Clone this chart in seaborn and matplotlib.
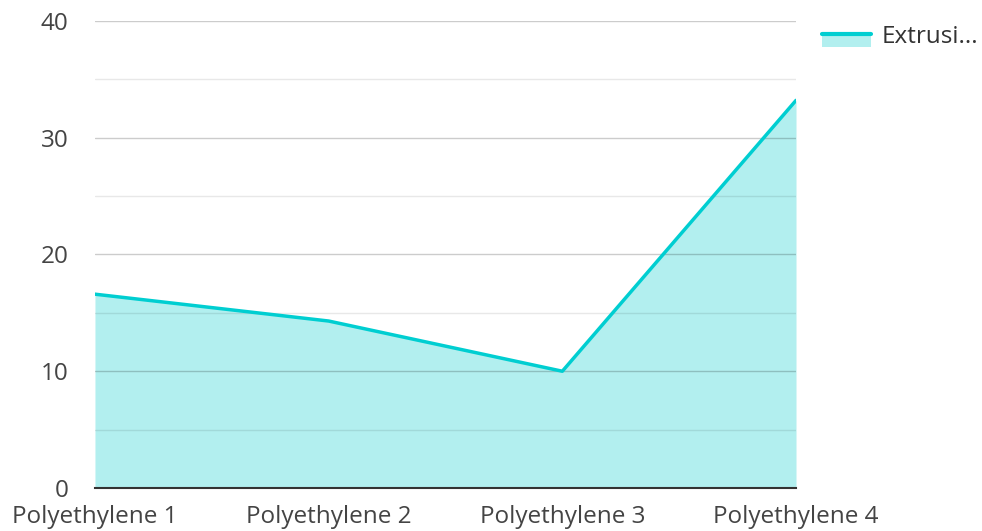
import matplotlib
matplotlib.use('Agg')
import matplotlib.pyplot as plt
from matplotlib.legend_handler import HandlerBase
from matplotlib.patches import Rectangle
from matplotlib.lines import Line2D
from matplotlib.ticker import MultipleLocator
import seaborn as sns
import pandas as pd

# 数据
categories = ["Polyethylene 1", "Polyethylene 2", "Polyethylene 3", "Polyethylene 4"]
values = [16.6, 14.3, 10.0, 33.2]
series_name = "Extrusi..."

line_color = "#00CED1"
fill_color = "#B2EFEF"

sns.set_style("white")
plt.rcParams['font.family'] = ['Open Sans', 'DejaVu Sans']


class AreaHandler(HandlerBase):
    """图例：上方线条 + 下方填充块"""
    def create_artists(self, legend, orig_handle, xdescent, ydescent,
                       width, height, fontsize, trans):
        rect = Rectangle((-xdescent, -ydescent - 0.2 * height), width, height * 0.75,
                         facecolor=fill_color, edgecolor='none', transform=trans)
        line = Line2D([-xdescent, -xdescent + width],
                      [-ydescent + height * 0.55] * 2,
                      color=line_color, lw=3, transform=trans)
        return [rect, line]


df = pd.DataFrame({"category": categories, "value": values})
x = list(range(len(categories)))

fig = plt.figure(figsize=(9.82, 5.31), dpi=100)
ax = fig.add_axes([0.0967, 0.081, 0.7139, 0.8795])

ax.fill_between(x, 0, df["value"], color=fill_color, lw=0, zorder=1)
sns.lineplot(x=x, y=df["value"], ax=ax, color=line_color, lw=2.5, zorder=3)

ax.set_xlim(0, len(categories) - 1)
ax.set_ylim(0, 40)
ax.set_xticks(x)
ax.set_xticklabels(categories)
ax.yaxis.set_major_locator(MultipleLocator(10))
ax.yaxis.set_minor_locator(MultipleLocator(5))

ax.set_axisbelow(False)
ax.grid(True, axis='y', which='major', color='black', alpha=0.2, lw=1)
ax.grid(True, axis='y', which='minor', color='black', alpha=0.09, lw=1)
for s in ['top', 'right', 'left']:
    ax.spines[s].set_visible(False)
ax.spines['bottom'].set_color('#333333')
ax.spines['bottom'].set_linewidth(1.5)
ax.spines['bottom'].set_zorder(4)

ax.tick_params(axis='both', which='both', length=0, labelsize=17.5, labelcolor='#444444')
ax.tick_params(axis='x', pad=12)
ax.tick_params(axis='y', pad=19)
ax.set_xlabel('')
ax.set_ylabel('')

handle = Rectangle((0, 0), 1, 1)
fig.legend([handle], [series_name], handler_map={Rectangle: AreaHandler()},
           loc='upper left', bbox_to_anchor=(822 / 982, 0.952), frameon=False,
           borderpad=0, borderaxespad=0,
           fontsize=17.5, labelcolor='#333333', handlelength=2.0, handletextpad=0.45)

plt.savefig('out.png', dpi=100)
plt.close()
